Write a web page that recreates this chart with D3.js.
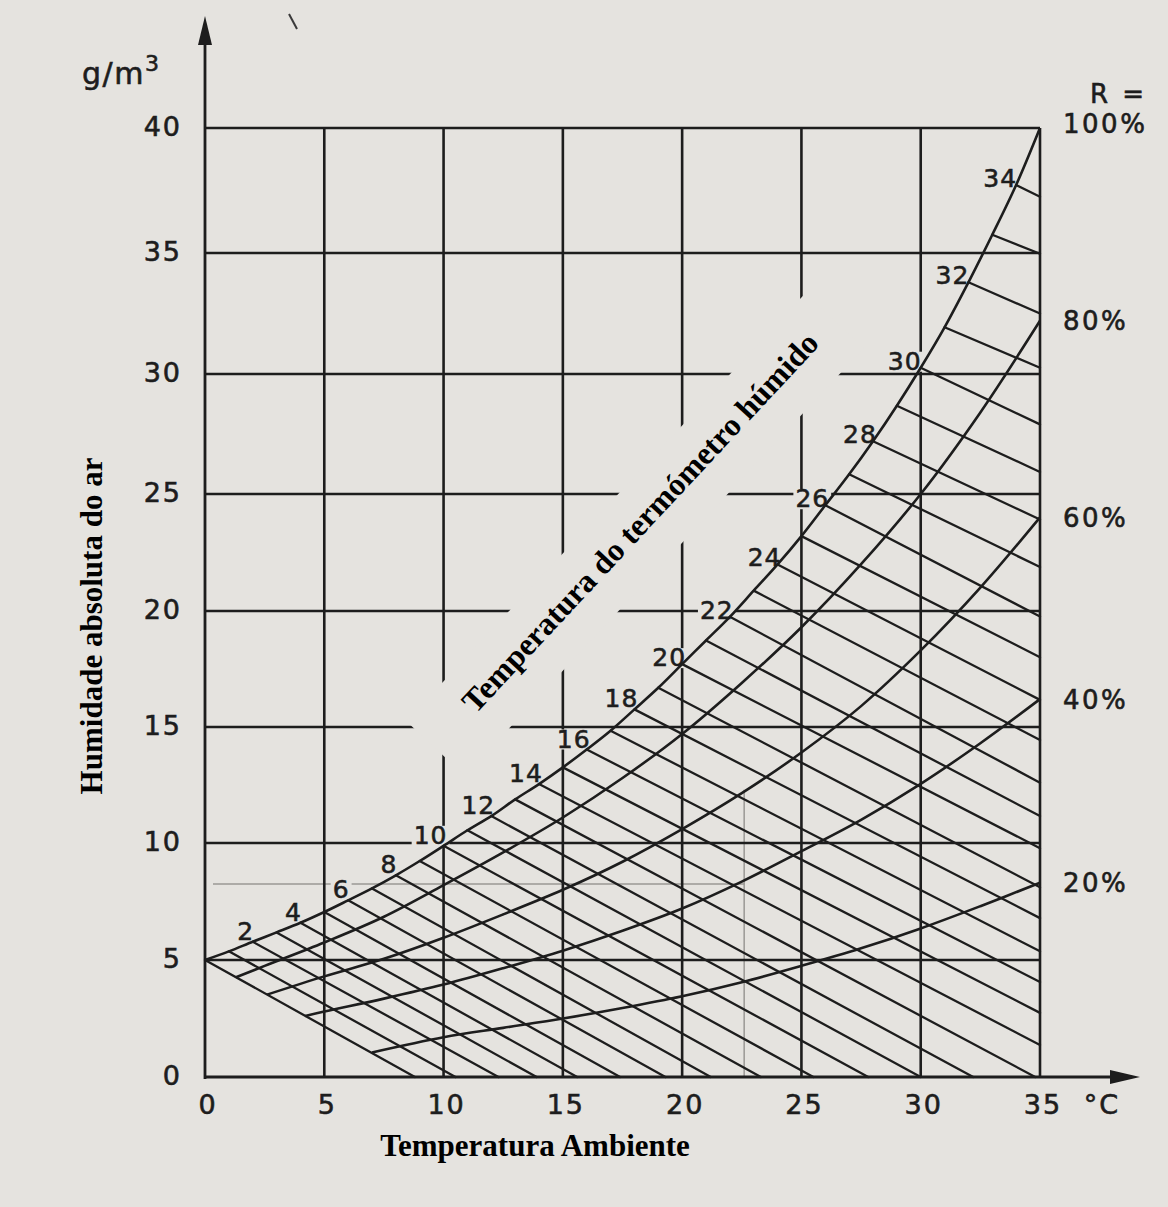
<!DOCTYPE html>
<html><head><meta charset="utf-8">
<script src="https://cdn.jsdelivr.net/npm/d3@7"></script>
<style>body{margin:0;background:#fff}</style>
</head><body>
<svg id="chart" width="1168" height="1207"></svg>
<script>
// ---------- data ----------
const xTicks = [0, 5, 10, 15, 20, 25, 30, 35];
const yTicks = [0, 5, 10, 15, 20, 25, 30, 35, 40];

// saturation curve (R = 100%), absolute humidity g/m3 at each temperature
const satTemps  = [0,1,2,3,4,5,6,7,8,9,10,11,12,13,14,15,16,17,18,19,20,21,22,23,24,25,26,27,28,29,30,31,32,33,34,35];
const satValues = [5.0,5.37,5.78,6.18,6.59,7.05,7.55,8.06,8.62,9.23,9.88,10.55,11.16,11.88,12.54,13.26,14.03,14.84,15.76,16.69,17.71,18.73,19.75,20.87,21.99,23.2,24.52,25.82,27.2,28.68,30.26,31.93,33.79,35.73,37.72,40.0];

// relative humidity curves [temperature, g/m3]
const rh80 = [[1.3,4.26],[2.5,4.75],[5,5.75],[7.5,6.85],[10,8.2],[12.5,9.6],[15,11.1],[17.5,12.8],[20,14.7],[22.5,16.9],[25,19.3],[27.5,22.0],[30,25.0],[32.5,28.4],[35,32.2]];
const rh60 = [[2.6,3.52],[5,4.3],[7.5,5.05],[10,5.95],[12.5,6.95],[15,8.0],[17.5,9.2],[20,10.6],[22.5,12.15],[25,13.9],[27.5,15.9],[30,18.3],[32.5,21.0],[35,24.0]];
const rh40 = [[4.2,2.61],[5,2.8],[7.5,3.35],[10,3.95],[12.5,4.65],[15,5.4],[17.5,6.25],[20,7.2],[22.5,8.35],[25,9.65],[27.5,11.0],[30,12.55],[32.5,14.3],[35,16.2]];
const rh20 = [[7.0,1.05],[10,1.7],[12.5,2.1],[15,2.5],[17.5,2.95],[20,3.45],[22.5,4.05],[25,4.75],[27.5,5.5],[30,6.35],[32.5,7.3],[35,8.3]];
const rhLabels = ["100%", "80%", "60%", "40%", "20%"];

// wet-bulb lines (every 1 °C), start on the saturation curve
const wbTemps = [0,1,2,3,4,5,6,7,8,9,10,11,12,13,14,15,16,17,18,19,20,21,22,23,24,25,26,27,28,29,30,31,32,33,34];
// lines 0..13 end on the temperature axis at these temperatures
const wbBottomEnd = [8.8,10.5,12.3,13.9,15.6,17.4,19.3,21.2,23.3,25.5,27.8,30.0,32.2,34.8];
// lines 14..34 end on the 35 °C border at these humidities
const wbRightEnd = [1.37,2.74,4.06,5.37,6.79,8.11,9.78,11.16,12.6,14.44,16.17,18.01,19.76,21.88,23.91,25.92,27.9,30.26,32.5,34.97,37.25];
const wbLabels = [2,4,6,8,10,12,14,16,18,20,22,24,26,28,30,32,34];

// faint pencil reading lines
const readTemp = [22.6];
const readHum  = [8.25];
const readTop  = [12.3];

// ---------- drawing ----------
const INK = "#1d1d1d", PAPER = "#e5e3df";
const svg = d3.select("#chart");
const x = d3.scaleLinear().domain([0, 35]).range([205, 1040]);
// the photographed grid is slightly uneven: one segment per grid step
const y = d3.scaleLinear().domain(yTicks).range([1077, 960, 843, 727, 611, 494, 374, 253, 128]);
const NUM_FONT = "DejaVu Sans, sans-serif";
const SERIF = "Liberation Serif, Times New Roman, serif";

function numText(sel) {
  return sel.attr("font-family", NUM_FONT).attr("fill", INK).attr("stroke", INK).attr("stroke-width", 0.6);
}

svg.append("rect").attr("width", 1168).attr("height", 1207).attr("fill", PAPER);

const gGrid = svg.append("g");
const gBg = svg.append("g");
const gCurves = svg.append("g");
const gText = svg.append("g");

// pencil reading lines
gGrid.append("line").attr("x1", x(0) + 8).attr("x2", x(readTemp[0])).attr("y1", y(readHum[0])).attr("y2", y(readHum[0]))
  .attr("stroke", "#9a9894").attr("stroke-width", 1.5);
gGrid.append("line").attr("x1", x(readTemp[0])).attr("x2", x(readTemp[0])).attr("y1", y(readTop[0])).attr("y2", y(0))
  .attr("stroke", "#9a9894").attr("stroke-width", 1.5);
// small stray pen mark above the plot
gGrid.append("line").attr("x1", 289).attr("y1", 14).attr("x2", 297).attr("y2", 29)
  .attr("stroke", "#3a3a3a").attr("stroke-width", 2);

// grid
gGrid.selectAll(".v").data(xTicks.slice(1)).join("line")
  .attr("x1", d => x(d)).attr("x2", d => x(d)).attr("y1", y(0)).attr("y2", y(40))
  .attr("stroke", INK).attr("stroke-width", 2.6);
gGrid.selectAll(".h").data(yTicks.slice(1)).join("line")
  .attr("x1", x(0)).attr("x2", x(35)).attr("y1", d => y(d)).attr("y2", d => y(d))
  .attr("stroke", INK).attr("stroke-width", 2.6);

// axes with arrows
gCurves.append("line").attr("x1", x(0)).attr("x2", x(0)).attr("y1", y(0) + 2).attr("y2", 40)
  .attr("stroke", INK).attr("stroke-width", 2.8);
gCurves.append("path").attr("d", `M${x(0)},16 L${x(0) - 7},45 L${x(0) + 7},45 Z`).attr("fill", INK);
gCurves.append("line").attr("x1", x(0) - 1).attr("x2", 1115).attr("y1", y(0)).attr("y2", y(0))
  .attr("stroke", INK).attr("stroke-width", 2.8);
gCurves.append("path").attr("d", `M1140,${y(0)} L1110,${y(0) - 7} L1110,${y(0) + 7} Z`).attr("fill", INK);

// wet-bulb hatching
const wbSegs = wbTemps.map((t, i) => {
  const start = [t, satValues[satTemps.indexOf(t)]];
  const end = i < wbBottomEnd.length ? [wbBottomEnd[i], 0] : [35, wbRightEnd[i - wbBottomEnd.length]];
  return [start, end];
});
gCurves.selectAll(".wb").data(wbSegs).join("line")
  .attr("x1", d => x(d[0][0])).attr("y1", d => y(d[0][1]))
  .attr("x2", d => x(d[1][0])).attr("y2", d => y(d[1][1]))
  .attr("stroke", INK).attr("stroke-width", 2.3).attr("stroke-linecap", "round");

// RH curves
const line = d3.line().x(d => x(d[0])).y(d => y(d[1])).curve(d3.curveCatmullRom.alpha(0.5));
const satPts = satTemps.map((t, i) => [t, satValues[i]]);
[satPts, rh80, rh60, rh40, rh20].forEach(c => {
  gCurves.append("path").attr("d", line(c)).attr("fill", "none").attr("stroke", INK).attr("stroke-width", 2.6);
});

// RH labels at right
const rhEnds = [satPts, rh80, rh60, rh40, rh20].map(c => c[c.length - 1][1]);
numText(gText.append("text")).attr("x", 1090).attr("y", y(40) - 33).attr("dominant-baseline", "middle")
  .attr("font-size", 26).attr("letter-spacing", 3).text("R =");
rhLabels.forEach((lab, i) => {
  const yy = i === 0 ? y(40) - 3 : y(rhEnds[i]) + 2;
  numText(gText.append("text")).attr("x", 1063).attr("y", yy).attr("dominant-baseline", "middle")
    .attr("font-size", 26).attr("letter-spacing", 2.5).text(lab);
});

// wet-bulb labels with paper-coloured boxes that break the grid
wbLabels.forEach(t => {
  const px = x(t), py = y(satValues[satTemps.indexOf(t)]);
  const dx = t < 10 ? -7 : (t < 30 ? -13 : -16);
  const dy = t < 20 ? -9 : -5;
  const tx = numText(gText.append("text")).attr("x", px + dx).attr("y", py + dy)
    .attr("text-anchor", "middle").attr("dominant-baseline", "middle")
    .attr("font-size", 25).attr("letter-spacing", 1).text(t);
  const b = tx.node().getBBox();
  gBg.append("rect").attr("x", b.x - 2).attr("y", b.y + 5).attr("width", b.width + 4).attr("height", b.height - 9)
    .attr("fill", PAPER);
});

// axis tick labels
numText(gText.selectAll(".yt").data(yTicks).join("text"))
  .attr("x", 182).attr("y", d => y(d)).attr("dominant-baseline", "middle").attr("text-anchor", "end")
  .attr("font-size", 27).attr("letter-spacing", 2).text(d => d);
numText(gText.selectAll(".xt").data(xTicks).join("text"))
  .attr("x", d => x(d) + 3).attr("y", 1106).attr("dominant-baseline", "middle").attr("text-anchor", "middle")
  .attr("font-size", 27).attr("letter-spacing", 2).text(d => d);
numText(gText.append("text")).attr("x", 1102).attr("y", 1106).attr("dominant-baseline", "middle").attr("text-anchor", "middle")
  .attr("font-size", 27).attr("letter-spacing", 2).text("°C");
const unit = numText(gText.append("text")).attr("x", 82).attr("y", 84)
  .attr("font-size", 30).attr("letter-spacing", 1.5);
unit.append("tspan").text("g/m");
unit.append("tspan").attr("dy", -13).attr("font-size", 22).text("3");

// titles
gText.append("text").attr("transform", "translate(102,626) rotate(-90)").attr("text-anchor", "middle")
  .attr("font-family", SERIF).attr("font-weight", "bold").attr("font-size", 31).attr("fill", "#000")
  .text("Humidade absoluta do ar");
gText.append("text").attr("x", 535).attr("y", 1156).attr("text-anchor", "middle")
  .attr("font-family", SERIF).attr("font-weight", "bold").attr("font-size", 31).attr("fill", "#000")
  .text("Temperatura Ambiente");

// diagonal label with its paper box
const gd = svg.append("g").attr("transform", "translate(640,522) rotate(-47)");
gBg.append("rect").attr("transform", "translate(640,522) rotate(-47)")
  .attr("x", -305).attr("y", -35).attr("width", 585).attr("height", 80).attr("fill", PAPER);
gd.append("text").attr("x", 0).attr("y", 11).attr("text-anchor", "middle")
  .attr("font-family", SERIF).attr("font-weight", "bold").attr("font-size", 32).attr("fill", "#000")
  .text("Temperatura do termómetro húmido");
</script>
</body></html>
